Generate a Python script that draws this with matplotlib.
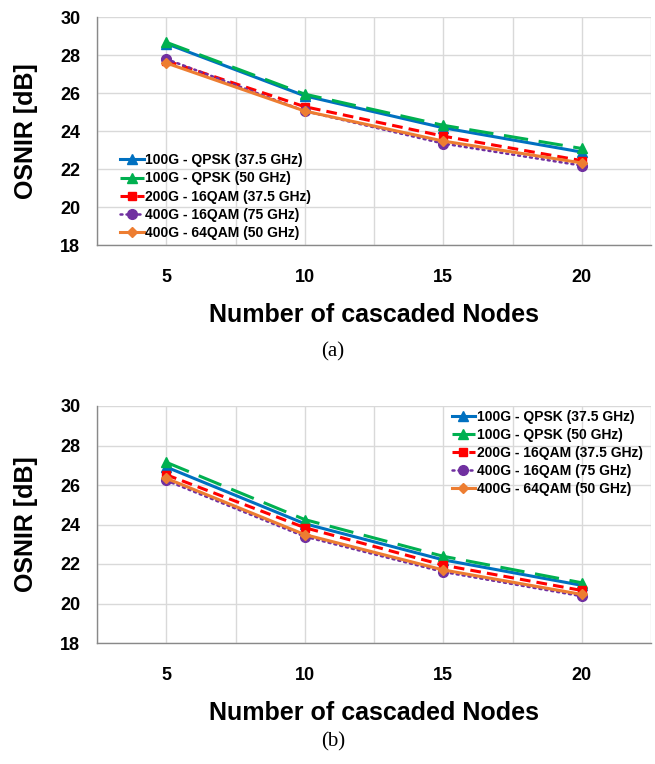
import matplotlib
matplotlib.use("Agg")
import matplotlib.pyplot as plt

nodes = [5, 10, 15, 20]
series_names = ["100G - QPSK (37.5 GHz)", "100G - QPSK (50 GHz)",
                "200G - 16QAM (37.5 GHz)", "400G - 16QAM (75 GHz)",
                "400G - 64QAM (50 GHz)"]

# (a)
a_qpsk_375 = [28.60, 25.85, 24.17, 22.89]
a_qpsk_50 = [28.67, 25.94, 24.30, 23.08]
a_16qam_375 = [27.70, 25.28, 23.73, 22.44]
a_16qam_75 = [27.79, 25.05, 23.34, 22.18]
a_64qam_50 = [27.58, 25.05, 23.47, 22.32]

# (b)
b_qpsk_375 = [26.91, 24.04, 22.21, 20.92]
b_qpsk_50 = [27.15, 24.25, 22.39, 21.05]
b_16qam_375 = [26.52, 23.84, 21.94, 20.66]
b_16qam_75 = [26.23, 23.39, 21.60, 20.37]
b_64qam_50 = [26.34, 23.49, 21.70, 20.46]

y_ticks = [18, 20, 22, 24, 26, 28, 30]
x_ticks = [5, 10, 15, 20]
x_tick_labels = ["5", "10", "15", "20"]

styles = [
    dict(color="#0070C0", ls="-", lw=2.2, marker="^", ms=7),
    dict(color="#00B050", ls=(0, (8, 3.5)), lw=2.2, marker="^", ms=7),
    dict(color="#FF0000", ls=(0, (3.5, 2)), lw=2.2, marker="s", ms=6),
    dict(color="#7030A0", ls=(0, (0.8, 1.6)), lw=1.8, marker="o", ms=7),
    dict(color="#ED7D31", ls="-", lw=2.2, marker="D", ms=5.5),
]

plt.rcParams["font.family"] = ["Liberation Sans", "DejaVu Sans"]
plt.rcParams["font.weight"] = "bold"

W, H = 655, 764
fig = plt.figure(figsize=(W / 100, H / 100), dpi=100)

def make_axes(top, bottom):
    return fig.add_axes([97 / W, 1 - bottom / H, (651 - 97) / W, (bottom - top) / H])

ax1 = make_axes(17, 245)
ax2 = make_axes(406, 643)

data_sets = [
    [a_qpsk_375, a_qpsk_50, a_16qam_375, a_16qam_75, a_64qam_50],
    [b_qpsk_375, b_qpsk_50, b_16qam_375, b_16qam_75, b_64qam_50],
]

grid_x = [2.5, 5, 7.5, 10, 12.5, 15, 17.5, 20, 22.5]

for ax, data in zip([ax1, ax2], data_sets):
    for name, vals, st in zip(series_names, data, styles):
        ax.plot(nodes, vals, label=name, color=st["color"], linestyle=st["ls"],
                linewidth=st["lw"], marker=st["marker"], markersize=st["ms"],
                markeredgecolor=st["color"], markerfacecolor=st["color"],
                dash_capstyle="butt" if st["ls"] != (0, (0.8, 1.6)) else "round")
    ax.set_xlim(2.5, 22.5)
    ax.set_ylim(18, 30)
    ax.set_yticks(y_ticks)
    ax.set_xticks(grid_x)
    ax.set_xticklabels([x_tick_labels[x_ticks.index(g)] if g in x_ticks else "" for g in grid_x])
    ax.grid(True, color="#D9D9D9", linewidth=1.0)
    ax.set_axisbelow(True)
    ax.tick_params(length=0, labelsize=13)
    ax.tick_params(axis="x", pad=17)
    ax.tick_params(axis="y", pad=12)
    for lab in ax.get_xticklabels() + ax.get_yticklabels():
        lab.set_fontweight("bold")
    for s in ["top", "right"]:
        ax.spines[s].set_visible(False)
    for s in ["left", "bottom"]:
        ax.spines[s].set_color("#898989")
        ax.spines[s].set_linewidth(1.0)
    ax.set_xlabel("Number of cascaded Nodes", fontsize=18, fontweight="bold", va="center")
    ax.set_ylabel("OSNIR [dB]", fontsize=18, fontweight="bold", va="center")

ax1.xaxis.set_label_coords(0.5, (245 - 315) / 228)
ax2.xaxis.set_label_coords(0.5, (643 - 713) / 237)
ax1.yaxis.set_label_coords((26 - 97) / 554, 0.5)
ax2.yaxis.set_label_coords((26 - 97) / 554, 0.5)

leg_kw = dict(frameon=False, fontsize=10, borderpad=0, borderaxespad=0,
              labelspacing=0.3, handlelength=1.7, handletextpad=0.1)
l1 = ax1.legend(loc="lower left", bbox_to_anchor=(0.0415, 0.022), **leg_kw)
l2 = ax2.legend(loc="upper right", bbox_to_anchor=(0.985, 0.985), **leg_kw)
for l in (l1, l2):
    for t in l.get_texts():
        t.set_fontweight("bold")

fig.text(333 / W, 1 - 352 / H, "(a)", ha="center", va="center",
         fontsize=15, family=["Liberation Serif", "DejaVu Serif"], fontweight="normal")
fig.text(333 / W, 1 - 742 / H, "(b)", ha="center", va="center",
         fontsize=15, family=["Liberation Serif", "DejaVu Serif"], fontweight="normal")

fig.savefig("out.png", dpi=100)
